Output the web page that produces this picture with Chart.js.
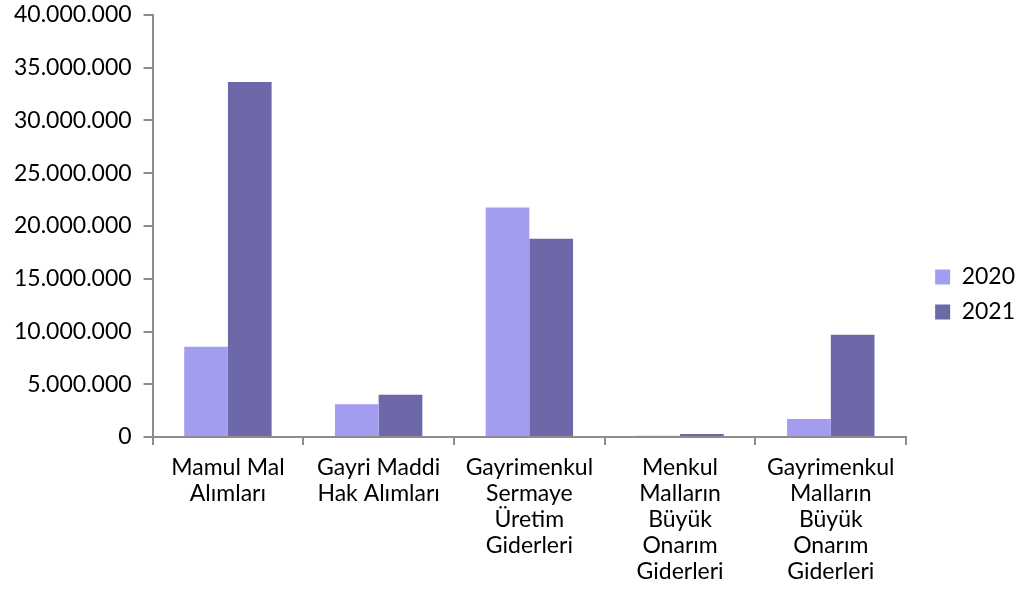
<!DOCTYPE html>
<html>
<head>
<meta charset="utf-8">
<script src="https://cdn.jsdelivr.net/npm/chart.js@4/dist/chart.umd.min.js"></script>
<style>
html,body{margin:0;padding:0;background:#fff;}
#wrap{width:1018px;height:590px;position:relative;}
</style>
</head>
<body>
<div id="wrap"><canvas id="c" width="1018" height="590"></canvas></div>
<script>
const categories = [
  ["Mamul Mal", "Alımları"],
  ["Gayri Maddi", "Hak Alımları"],
  ["Gayrimenkul", "Sermaye", "Üretim", "Giderleri"],
  ["Menkul", "Malların", "Büyük", "Onarım", "Giderleri"],
  ["Gayrimenkul", "Malların", "Büyük", "Onarım", "Giderleri"]
];
const seriesNames = ["2020", "2021"];
const values2020 = [8550000, 3100000, 21750000, 130000, 1700000];
const values2021 = [33650000, 4000000, 18800000, 300000, 9700000];
const yMin = 0, yMax = 40000000, yStep = 5000000;

const fmt = v => String(Math.round(v)).replace(/\B(?=(\d{3})+(?!\d))/g, '.');
const FONT = 'Lato';
const axisColor = '#8c8c8c';

const legendShift = {
  id: 'legendShift',
  afterLayout(chart) {
    const lg = chart.legend;
    if (lg) { lg.left += 17; lg.right += 17; lg.top -= 3; lg.bottom -= 3; }
  }
};

new Chart(document.getElementById('c'), {
  type: 'bar',
  data: {
    labels: categories,
    datasets: [
      {label: seriesNames[0], data: values2020, backgroundColor: '#a39def', borderWidth: 0},
      {label: seriesNames[1], data: values2021, backgroundColor: '#6d69a9', borderWidth: 0}
    ]
  },
  plugins: [legendShift],
  options: {
    responsive: false,
    animation: false,
    devicePixelRatio: 1,
    layout: {padding: {left: 2, right: 10, top: 0, bottom: -5}},
    datasets: {bar: {categoryPercentage: 0.58, barPercentage: 1.0}},
    plugins: {
      legend: {
        position: 'right',
        align: 'center',
        labels: {
          font: {family: FONT, size: 23},
          color: '#000',
          boxWidth: 15, boxHeight: 15,
          padding: 12
        }
      },
      tooltip: {enabled: false}
    },
    scales: {
      x: {
        grid: {offset: true, drawOnChartArea: false, drawTicks: true, tickLength: 8, color: axisColor, lineWidth: 2},
        border: {color: axisColor, width: 2},
        ticks: {font: {family: FONT, size: 23, lineHeight: 1.13}, color: '#000', maxRotation: 0, autoSkip: false, padding: 10}
      },
      y: {
        min: yMin, max: yMax,
        grid: {drawOnChartArea: false, drawTicks: true, tickLength: 9, color: axisColor, lineWidth: 2},
        border: {color: axisColor, width: 2},
        ticks: {stepSize: yStep, font: {family: FONT, size: 23, lineHeight: 0.25}, color: '#000', padding: 12, callback: v => fmt(v)}
      }
    }
  }
});
</script>
</body>
</html>
